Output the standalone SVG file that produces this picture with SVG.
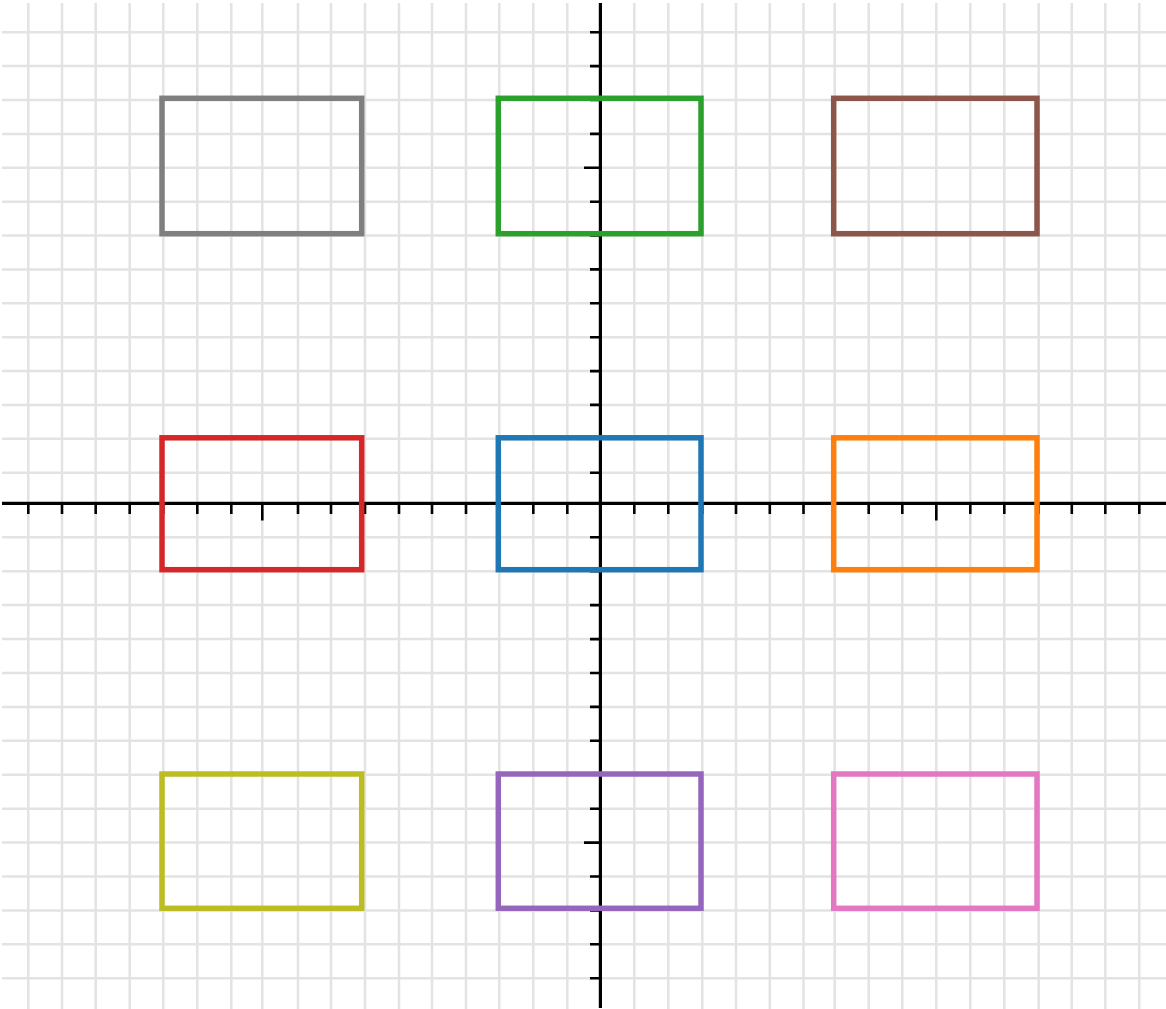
<svg xmlns="http://www.w3.org/2000/svg" width="1166" height="1009" viewBox="0 0 1166 1009">
<style>
.grid{stroke:#e3e3e3;stroke-width:2.5;fill:none}
.axis{stroke:#000;stroke-width:3.2;fill:none}
.tick{stroke:#000;stroke-width:2.6;fill:none}
.box{fill:none;stroke-width:5.5}
</style>
<rect x="0" y="0" width="1166" height="1009" fill="#fff"/>
<g id="grid">
<path class="grid" d="M28.3 3V1009M62 3V1009M95.7 3V1009M129.7 3V1009M163.3 3V1009M197.3 3V1009M231.3 3V1009M262.3 3V1009M298 3V1009M331 3V1009M365 3V1009M399 3V1009M432 3V1009M466 3V1009M499.3 3V1009M533.3 3V1009M567.3 3V1009M634.3 3V1009M668.3 3V1009M702.3 3V1009M736 3V1009M769.8 3V1009M803.5 3V1009M834.7 3V1009M868.7 3V1009M902.3 3V1009M936.3 3V1009M970.3 3V1009M1004.3 3V1009M1038.7 3V1009M1071.8 3V1009M1105.3 3V1009M1139.3 3V1009"/>
<path class="grid" d="M2 32.3H1166M2 66.1H1166M2 100H1166M2 133.9H1166M2 167.8H1166M2 201.7H1166M2 235.5H1166M2 269.4H1166M2 303.3H1166M2 337.2H1166M2 371.1H1166M2 404.9H1166M2 438.8H1166M2 472.7H1166M2 537.3H1166M2 571.2H1166M2 605.1H1166M2 639.1H1166M2 673H1166M2 706.9H1166M2 740.8H1166M2 774.7H1166M2 808.7H1166M2 842.6H1166M2 876.5H1166M2 910.4H1166M2 944.3H1166M2 978.3H1166"/>
</g>
<g id="axes">
<path class="axis" d="M2 503.3H1166M600.4 3V1008"/>
<path class="tick" d="M28.3 503V514M62 503V514M95.7 503V514M129.7 503V514M163.3 503V514M197.3 503V514M231.3 503V514M262.3 503V520.5M298 503V514M331 503V514M365 503V514M399 503V514M432 503V514M466 503V514M499.3 503V514M533.3 503V514M567.3 503V514M634.3 503V514M668.3 503V514M702.3 503V514M736 503V514M769.8 503V514M803.5 503V514M834.7 503V514M868.7 503V514M902.3 503V514M936.3 503V520.5M970.3 503V514M1004.3 503V514M1038.7 503V514M1071.8 503V514M1105.3 503V514M1139.3 503V514"/>
<path class="tick" d="M590 32.3H600M590 66.1H600M590 100H600M590 133.9H600M584 167.8H600M590 201.7H600M590 235.5H600M590 269.4H600M590 303.3H600M590 337.2H600M590 371.1H600M590 404.9H600M590 438.8H600M590 472.7H600M590 537.3H600M590 571.2H600M590 605.1H600M590 639.1H600M590 673H600M590 706.9H600M590 740.8H600M590 774.7H600M590 808.7H600M584 842.6H600M590 876.5H600M590 910.4H600M590 944.3H600M590 978.3H600"/>
</g>
<g id="connectors"></g>
<g id="node-gray"><rect class="box" stroke="#7f7f7f" x="162" y="98.3" width="199.7" height="135.4"/></g>
<g id="node-green"><rect class="box" stroke="#2ca02c" x="498.3" y="98.3" width="202.7" height="135.4"/></g>
<g id="node-brown"><rect class="box" stroke="#8c564b" x="833.7" y="98.3" width="203.3" height="135.4"/></g>
<g id="node-red"><rect class="box" stroke="#d62728" x="162" y="437.8" width="199.7" height="131.9"/></g>
<g id="node-blue"><rect class="box" stroke="#1f77b4" x="498.3" y="437.8" width="202.7" height="131.9"/></g>
<g id="node-orange"><rect class="box" stroke="#ff7f0e" x="833.7" y="437.8" width="203.3" height="131.9"/></g>
<g id="node-olive"><rect class="box" stroke="#bcbd22" x="162" y="774" width="199.7" height="134.3"/></g>
<g id="node-purple"><rect class="box" stroke="#9467bd" x="498.3" y="774" width="202.7" height="134.3"/></g>
<g id="node-pink"><rect class="box" stroke="#e377c2" x="833.7" y="774" width="203.3" height="134.3"/></g>
</svg>
